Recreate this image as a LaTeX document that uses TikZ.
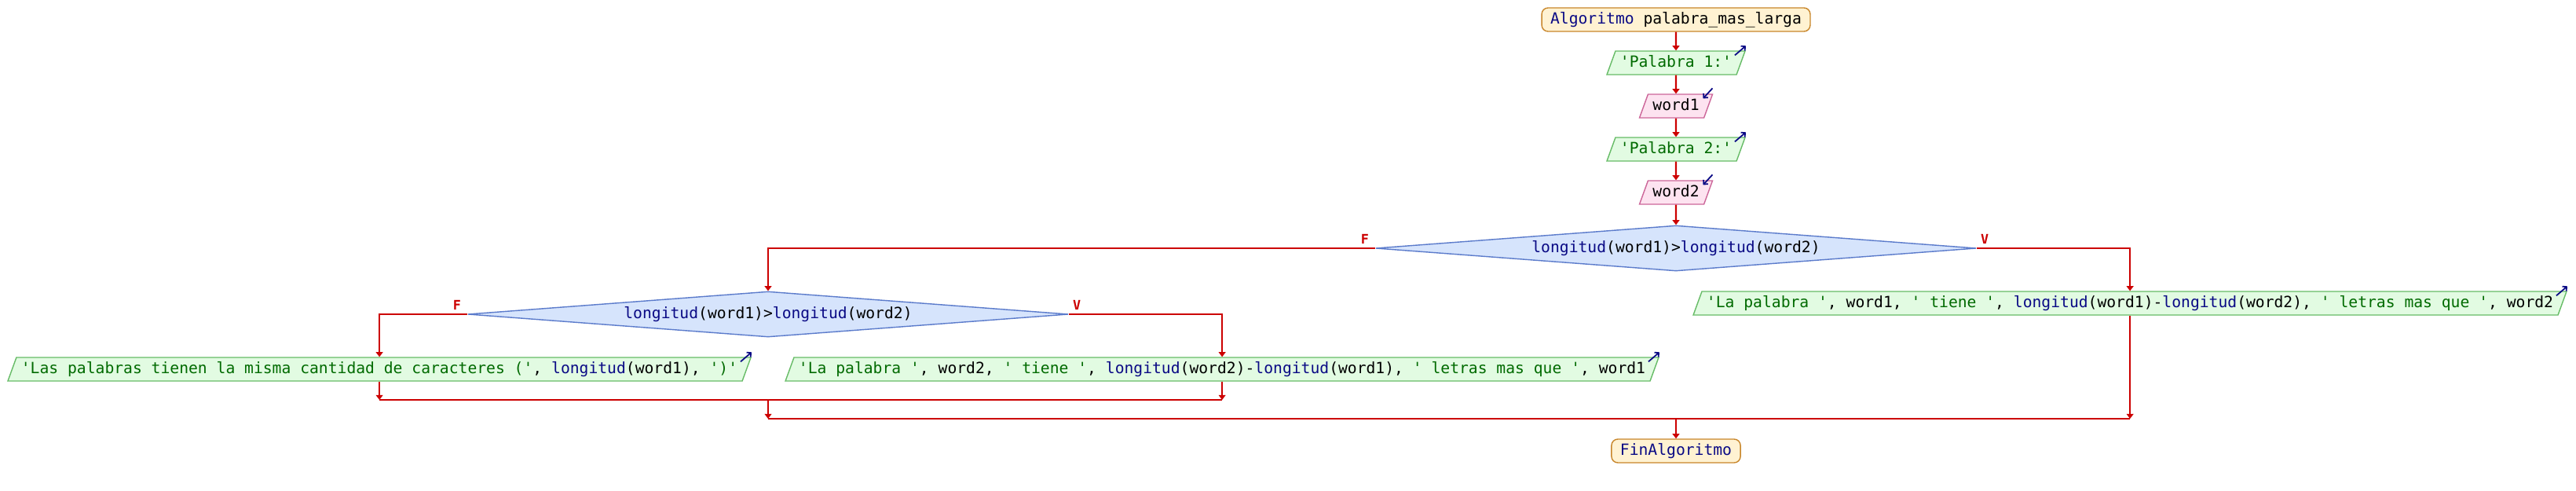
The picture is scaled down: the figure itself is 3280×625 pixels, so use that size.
\documentclass[tikz,border=0pt]{standalone}
\usepackage{fontspec}
\setmonofont{DejaVu Sans Mono}
\usetikzlibrary{positioning, arrows.meta, shapes.geometric}

\definecolor{flowred}{HTML}{CC0000}
\definecolor{termfill}{HTML}{FFF2D2}
\definecolor{termdraw}{HTML}{C8862A}
\definecolor{outfill}{HTML}{E2FBE2}
\definecolor{outdraw}{HTML}{66BB66}
\definecolor{infill}{HTML}{FDE3F0}
\definecolor{indraw}{HTML}{CC6699}
\definecolor{decfill}{HTML}{D6E4FC}
\definecolor{decdraw}{HTML}{5B7BCB}
\definecolor{kwblue}{HTML}{0A0A85}
\definecolor{litgreen}{HTML}{006A00}

\newcommand{\kwd}[1]{\textcolor{kwblue}{#1}}
\newcommand{\lit}[1]{\textcolor{litgreen}{#1}}

\begin{document}
\begin{tikzpicture}[
        x=0.02cm, y=-0.02cm,
        every node/.style={font=\ttfamily\fontsize{11.2}{13}\selectfont},
        termbox/.style={
            rectangle, rounded corners=1.6mm,
            fill=termfill, draw=termdraw, line width=0.8pt,
            minimum height=0.6cm, inner xsep=0.22cm, inner ysep=0pt
        },
        iobox/.style={
            trapezium, trapezium left angle=70, trapezium right angle=110,
            line width=0.8pt, text height=8.5pt, text depth=2.5pt,
            inner xsep=0.12cm, inner ysep=0.106cm
        },
        outbox/.style={iobox, fill=outfill, draw=outdraw},
        inbox/.style={iobox, fill=infill, draw=indraw},
        decbox/.style={
            diamond, aspect=13, inner sep=0pt,
            minimum width=15.3cm, minimum height=1.16cm,
            fill=decfill, draw=decdraw, line width=0.8pt
        },
        brlbl/.style={font=\ttfamily\bfseries\fontsize{9.5}{10}\selectfont, text=flowred},
        flow/.style={draw=flowred, line width=1.3pt,
            -{Triangle[length=3.5pt, width=5pt]}},
        wire/.style={draw=flowred, line width=1.3pt},
        ioarrow/.style={draw=kwblue, line width=1pt,
            -{Straight Barb[length=2.2pt, width=4.5pt]}}
    ]
    \useasboundingbox (0,0) rectangle (3280,625);

    % start and reading of the words
    \node[termbox] (start) at (2134,25)
        {\kwd{Algoritmo} palabra\_mas\_larga};
    \node[outbox] (p1) at (2134,80) {\lit{'Palabra 1:'}};
    \node[inbox] (w1) at (2134,135) {word1};
    \node[outbox] (p2) at (2134,190) {\lit{'Palabra 2:'}};
    \node[inbox] (w2) at (2134,245) {word2};

    % first test
    \node[decbox] (dec1) at (2134,316)
        {\kwd{longitud}(word1)>\kwd{longitud}(word2)};
    \node[brlbl] (f1) at ([shift={(-13,-12)}]dec1.west) {F};
    \node[brlbl] (v1) at ([shift={(10,-12)}]dec1.east) {V};

    \node[outbox] (outR) at (2712,386)
        {\lit{'La palabra '}, word1, \lit{' tiene '}, \kwd{longitud}(word1)-\kwd{longitud}(word2), \lit{' letras mas que '}, word2};

    % second test
    \node[decbox] (dec2) at (978,400)
        {\kwd{longitud}(word1)>\kwd{longitud}(word2)};
    \node[brlbl] (f2) at ([shift={(-13,-12)}]dec2.west) {F};
    \node[brlbl] (v2) at ([shift={(10,-12)}]dec2.east) {V};

    \node[outbox] (outL) at (483,470)
        {\lit{'Las palabras tienen la misma cantidad de caracteres ('}, \kwd{longitud}(word1), \lit{')'}};
    \node[outbox] (outM) at (1556,470)
        {\lit{'La palabra '}, word2, \lit{' tiene '}, \kwd{longitud}(word2)-\kwd{longitud}(word1), \lit{' letras mas que '}, word1};

    % end
    \node[termbox] (fin) at (2134,574) {\kwd{FinAlgoritmo}};

    \coordinate (j1) at (978,509);
    \coordinate (j2) at (2134,533);

    % connectors
    \draw[flow] (start) -- (p1);
    \draw[flow] (p1) -- (w1);
    \draw[flow] (w1) -- (p2);
    \draw[flow] (p2) -- (w2);
    \draw[flow] (w2) -- (dec1);
    \draw[flow] (dec1.west) -| (dec2.north);
    \draw[flow] (dec1.east) -| (outR.north);
    \draw[flow] (dec2.west) -| (outL.north);
    \draw[flow] (dec2.east) -| (outM.north);
    \draw[flow] (outL.south) -- (outL.south |- j1);
    \draw[flow] (outM.south) -- (outM.south |- j1);
    \draw[wire] (outL.south |- j1) -- (outM.south |- j1);
    \draw[flow] (j1) -- (j1 |- j2);
    \draw[flow] (outR.south) -- (outR.south |- j2);
    \draw[wire] (j1 |- j2) -- (outR.south |- j2);
    \draw[flow] (j2) -- (fin);

    % in/out marks
    \foreach \n in {p1, p2, outR, outL, outM}
        \draw[ioarrow] ([shift={(-14,6)}]\n.top right corner)
            -- ([shift={(0,-6)}]\n.top right corner);
    \foreach \n in {w1, w2}
        \draw[ioarrow] ([shift={(-1,-7)}]\n.top right corner)
            -- ([shift={(-13,6)}]\n.top right corner);
\end{tikzpicture}
\end{document}
